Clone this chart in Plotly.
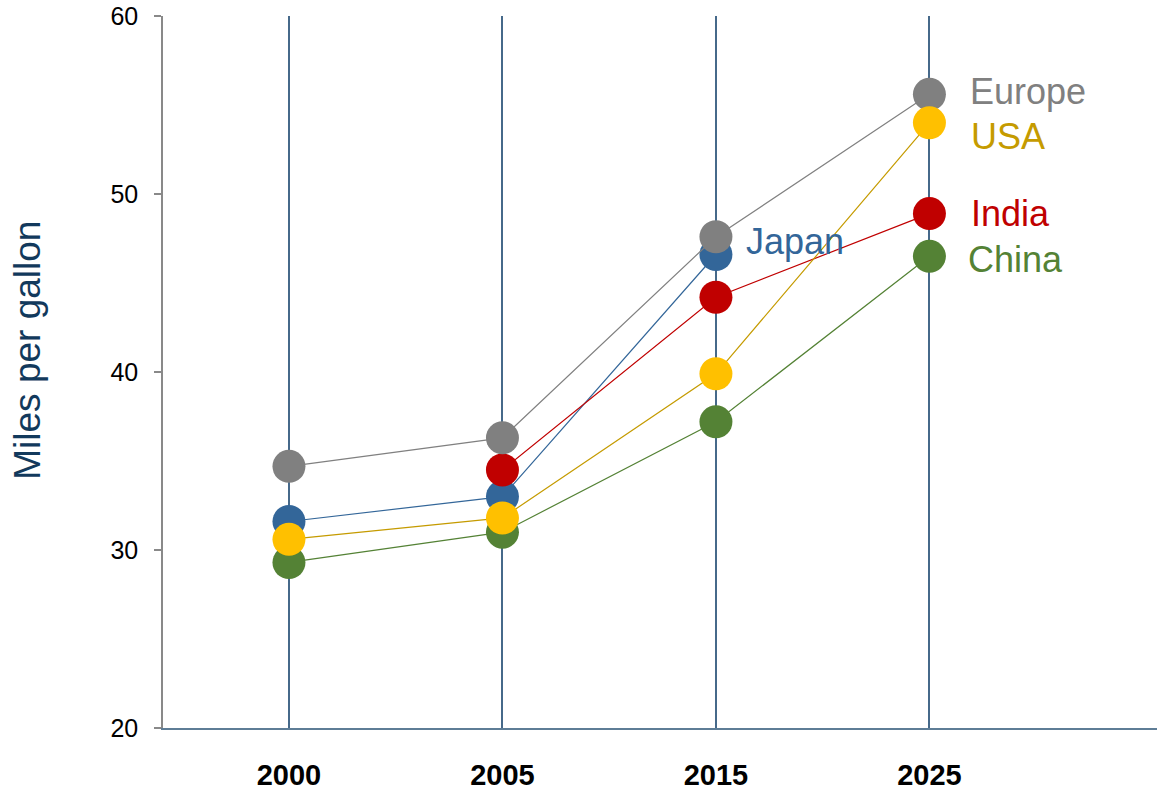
import plotly.graph_objects as go

# Fuel economy by region (miles per gallon)
years = ["2000", "2005", "2015", "2025"]
europe = [34.7, 36.3, 47.6, 55.6]
japan = [31.6, 33.0, 46.6, None]
usa = [30.6, 31.8, 39.9, 54.0]
india = [None, 34.5, 44.2, 48.9]
china = [29.3, 31.0, 37.2, 46.5]

y_ticks = [20, 30, 40, 50, 60]

FONT = "Arial, Liberation Sans, sans-serif"

# name, values, marker colour, line/label colour, label x offset, label y offset
series = [
    ("China", china, "#548235", "#548235", 37, -3),
    ("Japan", japan, "#336699", "#336699", 28, 13),
    ("India", india, "#C00000", "#C00000", 40, 0),
    ("Europe", europe, "#808080", "#808080", 39, 3),
    ("USA", usa, "#FFC000", "#C59B00", 40, -14),
]

fig = go.Figure()
annotations = []
for name, vals, mcol, lcol, dx, dy in series:
    fig.add_trace(go.Scatter(
        x=years, y=vals, name=name, mode="lines+markers",
        line=dict(color=lcol, width=1.2),
        marker=dict(color=mcol, size=33, line=dict(width=0)),
        cliponaxis=False, showlegend=False,
    ))
    # series name beside its last point (category axis positions are indices)
    last = max(i for i, v in enumerate(vals) if v is not None)
    annotations.append(dict(
        x=last, y=vals[last], xref="x", yref="y",
        text=name, showarrow=False, xanchor="left", yanchor="middle",
        xshift=dx, yshift=dy,
        font=dict(family=FONT, size=36, color=lcol),
    ))

annotations.append(dict(
    x=-0.136, y=0.531, xref="paper", yref="paper",
    text="Miles per gallon", showarrow=False, textangle=-90,
    xanchor="center", yanchor="middle",
    font=dict(family=FONT, size=37, color="#12395C"),
))

fig.update_layout(
    width=1160, height=793,
    margin=dict(l=163, r=3, t=16, b=65),
    paper_bgcolor="white", plot_bgcolor="white",
    font=dict(family=FONT, color="black"),
    annotations=annotations,
    xaxis=dict(
        type="category", categoryorder="array", categoryarray=years,
        range=[-0.59, 4.066], automargin=False,
        showgrid=True, gridcolor="#46698A", gridwidth=1.5,
        showline=True, linecolor="#5E7D96", linewidth=2,
        ticks="", ticklabelstandoff=20,
        tickfont=dict(family=FONT, size=29, color="black", weight="bold"),
        zeroline=False, fixedrange=True,
    ),
    yaxis=dict(
        range=[20, 60], tickvals=y_ticks, automargin=False,
        ticktext=[str(t) for t in y_ticks],
        showgrid=False, zeroline=False,
        showline=True, linecolor="#898989", linewidth=1.5,
        ticks="outside", ticklen=7, tickcolor="#898989", tickwidth=1.5,
        ticklabelstandoff=11,
        tickfont=dict(family=FONT, size=25, color="black"),
        fixedrange=True,
    ),
)

fig.write_html("out.html")
